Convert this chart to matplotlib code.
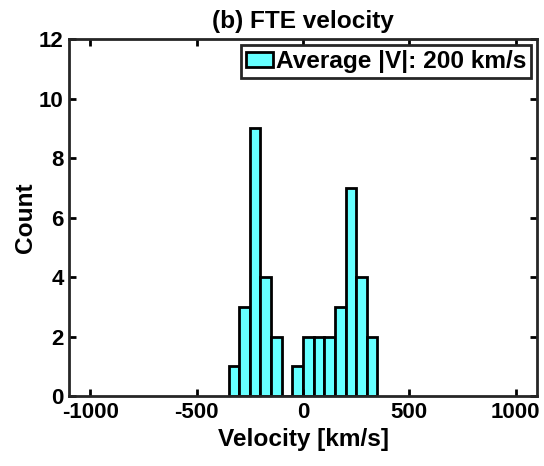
import numpy as np
import matplotlib.pyplot as plt

# histogram of FTE velocities, 50 km/s bins
bin_edges = np.arange(-350, 351, 50)
counts = [1, 3, 9, 4, 2, 0, 1, 2, 2, 2, 3, 7, 4, 2]
avg_speed = 200

plt.rcParams['font.family'] = ['Liberation Sans', 'DejaVu Sans']
plt.rcParams['font.weight'] = 'bold'
plt.rcParams['axes.unicode_minus'] = False

fig = plt.figure(figsize=(5.44, 4.66), dpi=100)
ax = fig.add_axes([0.127, 0.150, 0.860, 0.766])

centers = (bin_edges[:-1] + bin_edges[1:]) / 2
ax.hist(centers, bins=bin_edges, weights=counts, color='#66ffff',
        edgecolor='black', linewidth=2,
        label=f'Average |V|: {avg_speed} km/s')

ax.set_xlim(-1100, 1100)
ax.set_ylim(0, 12)
ax.set_xticks([-1000, -500, 0, 500, 1000])
ax.set_yticks(np.arange(0, 13, 2))
ax.tick_params(direction='in', length=5, width=2, labelsize=16,
               top=True, right=True, pad=4)
for s in ax.spines.values():
    s.set_linewidth(2)
    s.set_color('#262626')

ax.set_xlabel('Velocity [km/s]', fontsize=17.6, fontweight='bold', labelpad=4)
ax.set_ylabel('Count', fontsize=17.6, fontweight='bold', labelpad=1)
ax.set_title('(b) FTE velocity', fontsize=17.6, fontweight='bold', pad=8)

leg = ax.legend(loc='upper right', frameon=True, fancybox=False,
                handlelength=1.1, handleheight=0.55, handletextpad=0.1,
                borderpad=0.2, borderaxespad=0.25,
                prop={'weight': 'bold', 'size': 17.6})
leg.get_frame().set_edgecolor('#262626')
leg.get_frame().set_linewidth(2)
leg.get_frame().set_alpha(1)

fig.savefig('out.png', dpi=100)
